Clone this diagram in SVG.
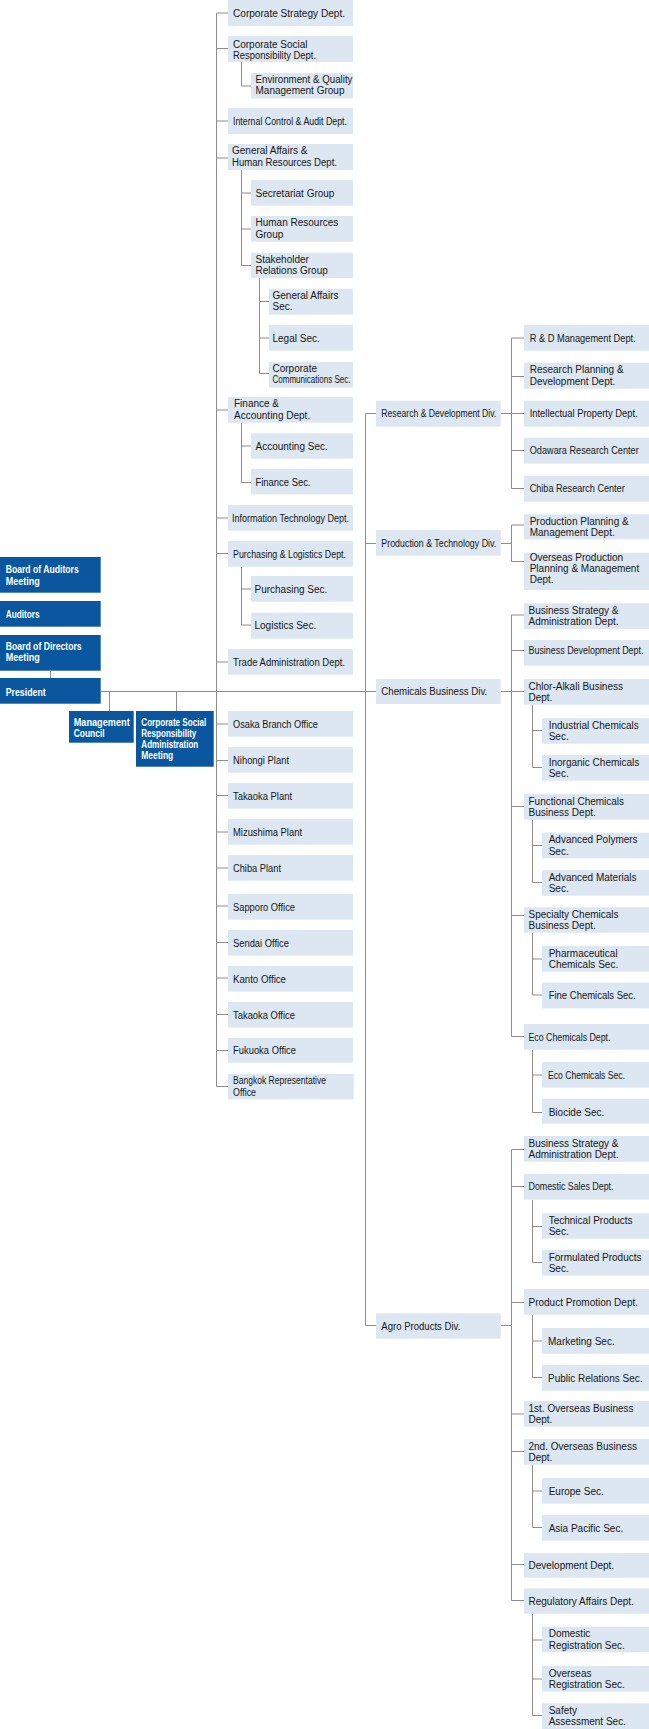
<svg xmlns="http://www.w3.org/2000/svg" width="649" height="1729" viewBox="0 0 649 1729">
<style>
.l{fill:#dce7f2}
.b{fill:#0a579f}
.c{stroke:#8c8c8c;stroke-width:1;fill:none}
text{font-family:"Liberation Sans",Arial,sans-serif;font-size:10px;fill:#161616}
text.w{fill:#fff;font-weight:bold}
</style>
<rect width="649" height="1729" fill="#fff"/>
<g id="connectors" class="c">
<path d="M216.5 13V1086.5M216.5 13H228M216.5 48.5H228M216.5 121H228M216.5 158H228M216.5 410H228M216.5 518H228M216.5 553.5H228M216.5 662H228M216.5 724H228M216.5 760.5H228M216.5 795.5H228M216.5 832H228M216.5 868H228M216.5 906H228M216.5 942.5H228M216.5 978H228M216.5 1014.5H228M216.5 1050.5H228M216.5 1086.5H228"/>
<path d="M241.5 62V86H251M241.5 170V265.5M241.5 193H251M241.5 229H251M241.5 265.5H251M259.5 278V373.5M259.5 301.5H269M259.5 338H269M259.5 373.5H269M241.5 423V482.5M241.5 446H251M241.5 482.5H251M241.5 567V625M241.5 589H251M241.5 625H251"/>
<path d="M50.5 671V678M100.7 691.5H376M109.5 691.5V711M176.5 691.5V711"/>
<path d="M365.5 413.5V1325.5M365.5 413.5H376M365.5 543.5H376M365.5 1325.5H376"/>
<path d="M500.7 413.5H511.5M511.5 338V488.5M511.5 338H524M511.5 376.5H524M511.5 413.5H524M511.5 450.5H524M511.5 488.5H524"/>
<path d="M500.7 543.5H511.5M511.5 525V561.5M511.5 525H524M511.5 561.5H524"/>
<path d="M500.7 691.5H511.5M511.5 615V1036.5M511.5 615H524M511.5 650.5H524M511.5 691.5H524M511.5 806.5H524M511.5 915.5H524M511.5 1036.5H524"/>
<path d="M532.5 705V767.5M532.5 730.5H542M532.5 767.5H542M532.5 820V882.5M532.5 845.5H542M532.5 882.5H542M532.5 933V995M532.5 959H542M532.5 995H542M532.5 1050V1112.5M532.5 1075H542M532.5 1112.5H542"/>
<path d="M500.7 1325.5H511.5M511.5 1149.5V1600.5M511.5 1149.5H524M511.5 1186.5H524M511.5 1302.5H524M511.5 1414H524M511.5 1451.5H524M511.5 1564.5H524M511.5 1600.5H524"/>
<path d="M532.5 1200V1262.5M532.5 1226.5H542M532.5 1262.5H542M532.5 1315V1377.5M532.5 1341H542M532.5 1377.5H542M532.5 1465V1527.5M532.5 1491H542M532.5 1527.5H542M532.5 1614V1715.5M532.5 1640H542M532.5 1679H542M532.5 1715.5H542"/>
</g>

<g id="board-auditors"><rect class="b" x="0" y="557" width="100.7" height="35.7"/><text class="w" x="5.7" y="573" textLength="73" lengthAdjust="spacingAndGlyphs">Board of Auditors</text><text class="w" x="5.7" y="584.7" textLength="34" lengthAdjust="spacingAndGlyphs">Meeting</text></g>
<g id="auditors"><rect class="b" x="0" y="601" width="100.7" height="25.7"/><text class="w" x="5.7" y="618.3" textLength="34" lengthAdjust="spacingAndGlyphs">Auditors</text></g>
<g id="board-directors"><rect class="b" x="0" y="635" width="100.7" height="35.7"/><text class="w" x="5.7" y="649.7" textLength="76" lengthAdjust="spacingAndGlyphs">Board of Directors</text><text class="w" x="5.7" y="661.3" textLength="34" lengthAdjust="spacingAndGlyphs">Meeting</text></g>
<g id="president"><rect class="b" x="0" y="678" width="100.7" height="25.7"/><text class="w" x="5.7" y="695.7" textLength="40" lengthAdjust="spacingAndGlyphs">President</text></g>
<g id="mgmt-council"><rect class="b" x="69" y="711" width="64.7" height="31.7"/><text class="w" x="73.7" y="726" textLength="56" lengthAdjust="spacingAndGlyphs">Management</text><text class="w" x="73.7" y="737" textLength="31" lengthAdjust="spacingAndGlyphs">Council</text></g>
<g id="csr-admin"><rect class="b" x="136" y="711" width="77.7" height="55.7"/><text class="w" x="141.3" y="726" textLength="65" lengthAdjust="spacingAndGlyphs">Corporate Social</text><text class="w" x="141.3" y="737" textLength="55" lengthAdjust="spacingAndGlyphs">Responsibility</text><text class="w" x="141.3" y="748" textLength="57" lengthAdjust="spacingAndGlyphs">Administration</text><text class="w" x="141.3" y="759" textLength="32" lengthAdjust="spacingAndGlyphs">Meeting</text></g>

<g id="corp-strategy"><rect class="l" x="228" y="0" width="125" height="26"/><text x="233" y="17" textLength="112" lengthAdjust="spacingAndGlyphs">Corporate Strategy Dept.</text></g>
<g id="csr-dept"><rect class="l" x="228" y="36" width="125" height="26"/><text x="233" y="47.5">Corporate Social</text><text x="233" y="58.5" textLength="83" lengthAdjust="spacingAndGlyphs">Responsibility Dept.</text></g>
<g id="env-quality"><rect class="l" x="251" y="73" width="102" height="25.5"/><text x="255.5" y="82.5" textLength="97" lengthAdjust="spacingAndGlyphs">Environment &amp; Quality</text><text x="255.5" y="94">Management Group</text></g>
<g id="internal-control"><rect class="l" x="228" y="108" width="125" height="26"/><text x="233" y="124.7" textLength="114" lengthAdjust="spacingAndGlyphs">Internal Control &amp; Audit Dept.</text></g>
<g id="ga-hr"><rect class="l" x="228" y="144" width="125" height="26"/><text x="232" y="154">General Affairs &amp;</text><text x="232" y="165.7" textLength="105" lengthAdjust="spacingAndGlyphs">Human Resources Dept.</text></g>
<g id="secretariat"><rect class="l" x="251" y="180" width="102" height="25.7"/><text x="255.5" y="196.7">Secretariat Group</text></g>
<g id="hr-group"><rect class="l" x="251" y="216" width="102" height="25.7"/><text x="255.5" y="226">Human Resources</text><text x="255.5" y="237.5">Group</text></g>
<g id="stakeholder"><rect class="l" x="251" y="252.7" width="102" height="25.5"/><text x="255.5" y="262.7">Stakeholder</text><text x="255.5" y="274.2">Relations Group</text></g>
<g id="ga-sec"><rect class="l" x="269" y="288.7" width="84" height="26"/><text x="272.5" y="298.7">General Affairs</text><text x="272.5" y="310.2">Sec.</text></g>
<g id="legal-sec"><rect class="l" x="269" y="325" width="84" height="25.7"/><text x="272.5" y="341.7">Legal Sec.</text></g>
<g id="corp-comm"><rect class="l" x="269" y="362" width="84" height="25.7"/><text x="272.5" y="371.5">Corporate</text><text x="272.5" y="383" textLength="78" lengthAdjust="spacingAndGlyphs">Communications Sec.</text></g>
<g id="fin-acc"><rect class="l" x="228" y="397" width="125" height="25.7"/><text x="234" y="407">Finance &amp;</text><text x="234" y="418.5">Accounting Dept.</text></g>
<g id="accounting-sec"><rect class="l" x="251" y="433.3" width="102" height="25.4"/><text x="255.5" y="450">Accounting Sec.</text></g>
<g id="finance-sec"><rect class="l" x="251" y="469" width="102" height="25.4"/><text x="255.5" y="485.7" textLength="55" lengthAdjust="spacingAndGlyphs">Finance Sec.</text></g>
<g id="it-dept"><rect class="l" x="228" y="505" width="125" height="25.7"/><text x="232" y="521.7" textLength="117" lengthAdjust="spacingAndGlyphs">Information Technology Dept.</text></g>
<g id="pl-dept"><rect class="l" x="228" y="541" width="125" height="25.7"/><text x="233" y="557.7" textLength="113" lengthAdjust="spacingAndGlyphs">Purchasing &amp; Logistics Dept.</text></g>
<g id="purchasing-sec"><rect class="l" x="251" y="576" width="102" height="25.7"/><text x="254.5" y="592.7">Purchasing Sec.</text></g>
<g id="logistics-sec"><rect class="l" x="251" y="612.7" width="102" height="26"/><text x="254.5" y="629.4">Logistics Sec.</text></g>
<g id="trade-admin"><rect class="l" x="228" y="649" width="125" height="25.7"/><text x="233" y="665.7" textLength="112" lengthAdjust="spacingAndGlyphs">Trade Administration Dept.</text></g>
<g id="osaka"><rect class="l" x="228" y="711" width="125" height="25.7"/><text x="233" y="727.7" textLength="85" lengthAdjust="spacingAndGlyphs">Osaka Branch Office</text></g>
<g id="nihongi"><rect class="l" x="228" y="747" width="125" height="25.7"/><text x="233" y="763.7" textLength="56" lengthAdjust="spacingAndGlyphs">Nihongi Plant</text></g>
<g id="takaoka-plant"><rect class="l" x="228" y="783" width="125" height="25.7"/><text x="233" y="799.7" textLength="59" lengthAdjust="spacingAndGlyphs">Takaoka Plant</text></g>
<g id="mizushima"><rect class="l" x="228" y="819" width="125" height="25.7"/><text x="233" y="835.7" textLength="69" lengthAdjust="spacingAndGlyphs">Mizushima Plant</text></g>
<g id="chiba-plant"><rect class="l" x="228" y="855" width="125" height="25.7"/><text x="233" y="871.7" textLength="48" lengthAdjust="spacingAndGlyphs">Chiba Plant</text></g>
<g id="sapporo"><rect class="l" x="228" y="894" width="125" height="25.7"/><text x="233" y="910.7" textLength="62" lengthAdjust="spacingAndGlyphs">Sapporo Office</text></g>
<g id="sendai"><rect class="l" x="228" y="930" width="125" height="25.7"/><text x="233" y="946.7" textLength="56" lengthAdjust="spacingAndGlyphs">Sendai Office</text></g>
<g id="kanto"><rect class="l" x="228" y="966" width="125" height="25.7"/><text x="233" y="982.7" textLength="53" lengthAdjust="spacingAndGlyphs">Kanto Office</text></g>
<g id="takaoka-office"><rect class="l" x="228" y="1002" width="125" height="25.7"/><text x="233" y="1018.7" textLength="62" lengthAdjust="spacingAndGlyphs">Takaoka Office</text></g>
<g id="fukuoka"><rect class="l" x="228" y="1038" width="125" height="24.7"/><text x="233" y="1054.3" textLength="63" lengthAdjust="spacingAndGlyphs">Fukuoka Office</text></g>
<g id="bangkok"><rect class="l" x="228" y="1074" width="125.7" height="25.3"/><text x="233" y="1084" textLength="93" lengthAdjust="spacingAndGlyphs">Bangkok Representative</text><text x="233" y="1095.5" textLength="23" lengthAdjust="spacingAndGlyphs">Office</text></g>

<g id="rd-div"><rect class="l" x="376" y="400.7" width="124.7" height="26"/><text x="381.3" y="417.3" textLength="115" lengthAdjust="spacingAndGlyphs">Research &amp; Development Div.</text></g>
<g id="pt-div"><rect class="l" x="376" y="530" width="124.7" height="25.7"/><text x="381.3" y="547.3" textLength="115" lengthAdjust="spacingAndGlyphs">Production &amp; Technology Div.</text></g>
<g id="chem-div"><rect class="l" x="376" y="679" width="124.7" height="25"/><text x="381.3" y="695.3" textLength="106" lengthAdjust="spacingAndGlyphs">Chemicals Business Div.</text></g>
<g id="agro-div"><rect class="l" x="376" y="1313.3" width="124.7" height="25.4"/><text x="381.3" y="1329.7" textLength="79" lengthAdjust="spacingAndGlyphs">Agro Products Div.</text></g>

<g id="rd-mgmt"><rect class="l" x="524" y="325" width="125" height="25.7"/><text x="529.7" y="341.7" textLength="106" lengthAdjust="spacingAndGlyphs">R &amp; D Management Dept.</text></g>
<g id="research-planning"><rect class="l" x="524" y="362.7" width="125" height="26"/><text x="529.7" y="373.3">Research Planning &amp;</text><text x="529.7" y="384.5">Development Dept.</text></g>
<g id="ip-dept"><rect class="l" x="524" y="400.7" width="125" height="26"/><text x="529.7" y="417.3" textLength="108" lengthAdjust="spacingAndGlyphs">Intellectual Property Dept.</text></g>
<g id="odawara"><rect class="l" x="524" y="437.7" width="125" height="26"/><text x="529.7" y="454.3" textLength="109" lengthAdjust="spacingAndGlyphs">Odawara Research Center</text></g>
<g id="chiba-rc"><rect class="l" x="524" y="475.7" width="125" height="26"/><text x="529.7" y="492.3" textLength="95" lengthAdjust="spacingAndGlyphs">Chiba Research Center</text></g>
<g id="prod-planning"><rect class="l" x="524" y="514.3" width="125" height="25"/><text x="529.7" y="524.5">Production Planning &amp;</text><text x="529.7" y="535.8">Management Dept.</text></g>
<g id="overseas-prod"><rect class="l" x="524" y="552.7" width="125" height="37.3"/><text x="529.7" y="561">Overseas Production</text><text x="529.7" y="572">Planning &amp; Management</text><text x="529.7" y="583">Dept.</text></g>

<g id="chem-bsa"><rect class="l" x="524" y="603.3" width="125" height="25.7"/><text x="528.5" y="614">Business Strategy &amp;</text><text x="528.5" y="625.3">Administration Dept.</text></g>
<g id="chem-bdd"><rect class="l" x="524" y="640" width="125" height="25.7"/><text x="528.5" y="654.3" textLength="115" lengthAdjust="spacingAndGlyphs">Business Development Dept.</text></g>
<g id="chlor-alkali"><rect class="l" x="524" y="679" width="125" height="25.7"/><text x="528.5" y="689.8">Chlor-Alkali Business</text><text x="528.5" y="701.2">Dept.</text></g>
<g id="industrial-chem"><rect class="l" x="542" y="718.3" width="107" height="25.4"/><text x="548.7" y="728.8">Industrial Chemicals</text><text x="548.7" y="740.2">Sec.</text></g>
<g id="inorganic-chem"><rect class="l" x="542" y="755" width="107" height="25.7"/><text x="548.7" y="765.5">Inorganic Chemicals</text><text x="548.7" y="777">Sec.</text></g>
<g id="functional-chem"><rect class="l" x="524" y="794" width="125" height="25.7"/><text x="528.5" y="804.5">Functional Chemicals</text><text x="528.5" y="816">Business Dept.</text></g>
<g id="adv-polymers"><rect class="l" x="542" y="832.7" width="107" height="25.6"/><text x="548.7" y="843.2">Advanced Polymers</text><text x="548.7" y="854.7">Sec.</text></g>
<g id="adv-materials"><rect class="l" x="542" y="870" width="107" height="25.7"/><text x="548.7" y="880.5">Advanced Materials</text><text x="548.7" y="892">Sec.</text></g>
<g id="specialty-chem"><rect class="l" x="524" y="907.3" width="125" height="25.4"/><text x="528.5" y="917.8">Specialty Chemicals</text><text x="528.5" y="929.2">Business Dept.</text></g>
<g id="pharma-chem"><rect class="l" x="542" y="946" width="107" height="25.7"/><text x="548.7" y="956.5">Pharmaceutical</text><text x="548.7" y="968">Chemicals Sec.</text></g>
<g id="fine-chem"><rect class="l" x="542" y="982.7" width="107" height="25.6"/><text x="548.7" y="999" textLength="87" lengthAdjust="spacingAndGlyphs">Fine Chemicals Sec.</text></g>
<g id="eco-chem-dept"><rect class="l" x="524" y="1024" width="125" height="25.7"/><text x="528.5" y="1040.5" textLength="82" lengthAdjust="spacingAndGlyphs">Eco Chemicals Dept.</text></g>
<g id="eco-chem-sec"><rect class="l" x="542" y="1062" width="107" height="25.7"/><text x="548" y="1078.7" textLength="77" lengthAdjust="spacingAndGlyphs">Eco Chemicals Sec.</text></g>
<g id="biocide"><rect class="l" x="542" y="1098.7" width="107" height="25"/><text x="548.7" y="1115.5">Biocide Sec.</text></g>

<g id="agro-bsa"><rect class="l" x="524" y="1136" width="125" height="25.7"/><text x="528.5" y="1146.5">Business Strategy &amp;</text><text x="528.5" y="1158">Administration Dept.</text></g>
<g id="domestic-sales"><rect class="l" x="524" y="1174" width="125" height="25.7"/><text x="528.5" y="1190.3" textLength="85" lengthAdjust="spacingAndGlyphs">Domestic Sales Dept.</text></g>
<g id="technical-products"><rect class="l" x="542" y="1213.3" width="107" height="25.4"/><text x="548.7" y="1223.8">Technical Products</text><text x="548.7" y="1235.2">Sec.</text></g>
<g id="formulated-products"><rect class="l" x="542" y="1250" width="107" height="25.7"/><text x="548.7" y="1260.5">Formulated Products</text><text x="548.7" y="1272">Sec.</text></g>
<g id="product-promotion"><rect class="l" x="524" y="1289" width="125" height="25.7"/><text x="528.5" y="1306">Product Promotion Dept.</text></g>
<g id="marketing"><rect class="l" x="542" y="1328" width="107" height="25.7"/><text x="548" y="1344.7">Marketing Sec.</text></g>
<g id="public-relations"><rect class="l" x="542" y="1365" width="107" height="25.7"/><text x="548" y="1381.7">Public Relations Sec.</text></g>
<g id="overseas1"><rect class="l" x="524" y="1401" width="125" height="25.7"/><text x="528.5" y="1411.5">1st. Overseas Business</text><text x="528.5" y="1423">Dept.</text></g>
<g id="overseas2"><rect class="l" x="524" y="1439" width="125" height="25.7"/><text x="528.5" y="1449.5">2nd. Overseas Business</text><text x="528.5" y="1461">Dept.</text></g>
<g id="europe"><rect class="l" x="542" y="1478" width="107" height="25.7"/><text x="548.7" y="1494.7">Europe Sec.</text></g>
<g id="asia-pacific"><rect class="l" x="542" y="1515" width="107" height="25.7"/><text x="548.7" y="1531.7">Asia Pacific Sec.</text></g>
<g id="development"><rect class="l" x="524" y="1553" width="125" height="24.7"/><text x="528.5" y="1569">Development Dept.</text></g>
<g id="regulatory"><rect class="l" x="524" y="1588.3" width="125" height="25.4"/><text x="528.5" y="1604.5">Regulatory Affairs Dept.</text></g>
<g id="domestic-reg"><rect class="l" x="542" y="1626.7" width="107" height="25.6"/><text x="548.7" y="1637.2">Domestic</text><text x="548.7" y="1648.7">Registration Sec.</text></g>
<g id="overseas-reg"><rect class="l" x="542" y="1666" width="107" height="25.7"/><text x="548.7" y="1676.5">Overseas</text><text x="548.7" y="1688">Registration Sec.</text></g>
<g id="safety"><rect class="l" x="542" y="1703.3" width="107" height="25.7"/><text x="548.7" y="1713.8">Safety</text><text x="548.7" y="1725.3">Assessment Sec.</text></g>
</svg>
